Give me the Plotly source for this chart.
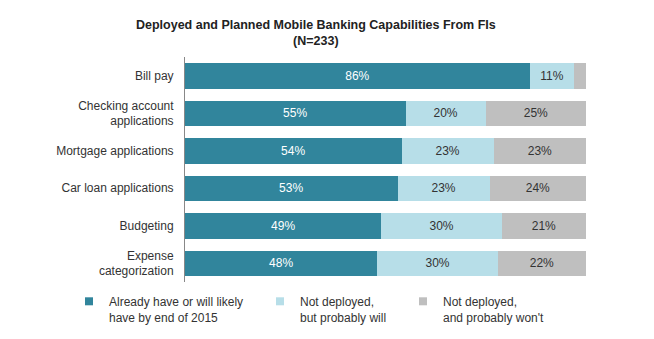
import plotly.graph_objects as go

categories = ["Bill pay", "Checking account<br>applications", "Mortgage applications",
              "Car loan applications", "Budgeting", "Expense<br>categorization"]
already = [86, 55, 54, 53, 49, 48]
probably_will = [11, 20, 23, 23, 30, 30]
probably_wont = [3, 25, 23, 24, 21, 22]
series_names = ["Already have or will likely<br>have by end of 2015",
                "Not deployed,<br>but probably will",
                "Not deployed,<br>and probably won't"]
colors = ["#31859C", "#B7DEE8", "#BFBFBF"]
text_colors = ["white", "#333333", "#333333"]
legend_ids = ["legend", "legend2", "legend3"]
legend_x_px = [69, 260, 403]

PLOT_L, PLOT_R = 185, 586
fig = go.Figure()
for vals, name, col, tcol, lg in zip([already, probably_will, probably_wont],
                                     series_names, colors, text_colors, legend_ids):
    labels = [f"{v}%" if v >= 5 else "" for v in vals]
    fig.add_trace(go.Bar(
        y=categories, x=vals, orientation="h", name=name,
        marker=dict(color=col, line=dict(width=0)),
        text=labels, textposition="inside", insidetextanchor="middle",
        textfont=dict(color=tcol, size=12, family="Liberation Sans, Arial"),
        width=0.68, showlegend=False,
    ))
    # legend key (small square swatch)
    fig.add_trace(go.Scatter(
        x=[None], y=[None], mode="markers", name=name,
        marker=dict(symbol="square", size=8, color=col),
        legend=lg, showlegend=True, hoverinfo="skip",
    ))

layout_legends = {}
for lg, px in zip(legend_ids, legend_x_px):
    layout_legends[lg] = dict(
        xref="paper", yref="paper", x=(px - PLOT_L) / (PLOT_R - PLOT_L),
        y=-5 / 225, xanchor="left", yanchor="top",
        orientation="h", font=dict(size=12, color="#333333", family="Liberation Sans, Arial"),
        bgcolor="rgba(0,0,0,0)", itemwidth=30, tracegroupgap=0, valign="top",
    )

fig.update_layout(
    barmode="stack",
    showlegend=True,
    width=654, height=339,
    margin=dict(l=185, r=68, t=57, b=57, autoexpand=False),
    paper_bgcolor="white", plot_bgcolor="white",
    title=dict(text="<b>Deployed and Planned Mobile Banking Capabilities From FIs<br>(N=233)</b>",
               x=0.483, xanchor="center", y=0.914, yanchor="top",
               font=dict(size=12.5, color="#222222", family="Liberation Sans, Arial")),
    font=dict(family="Liberation Sans, Arial", size=12, color="#333333"),
    xaxis=dict(range=[0, 100], visible=False, fixedrange=True),
    yaxis=dict(autorange="reversed", showline=True, linecolor="#888888", linewidth=1,
               ticks="", showgrid=False, tickfont=dict(size=12, color="#333333"),
               ticklabelstandoff=8),
    bargap=0.32,
    **layout_legends,
)

fig.write_html("out.html")
